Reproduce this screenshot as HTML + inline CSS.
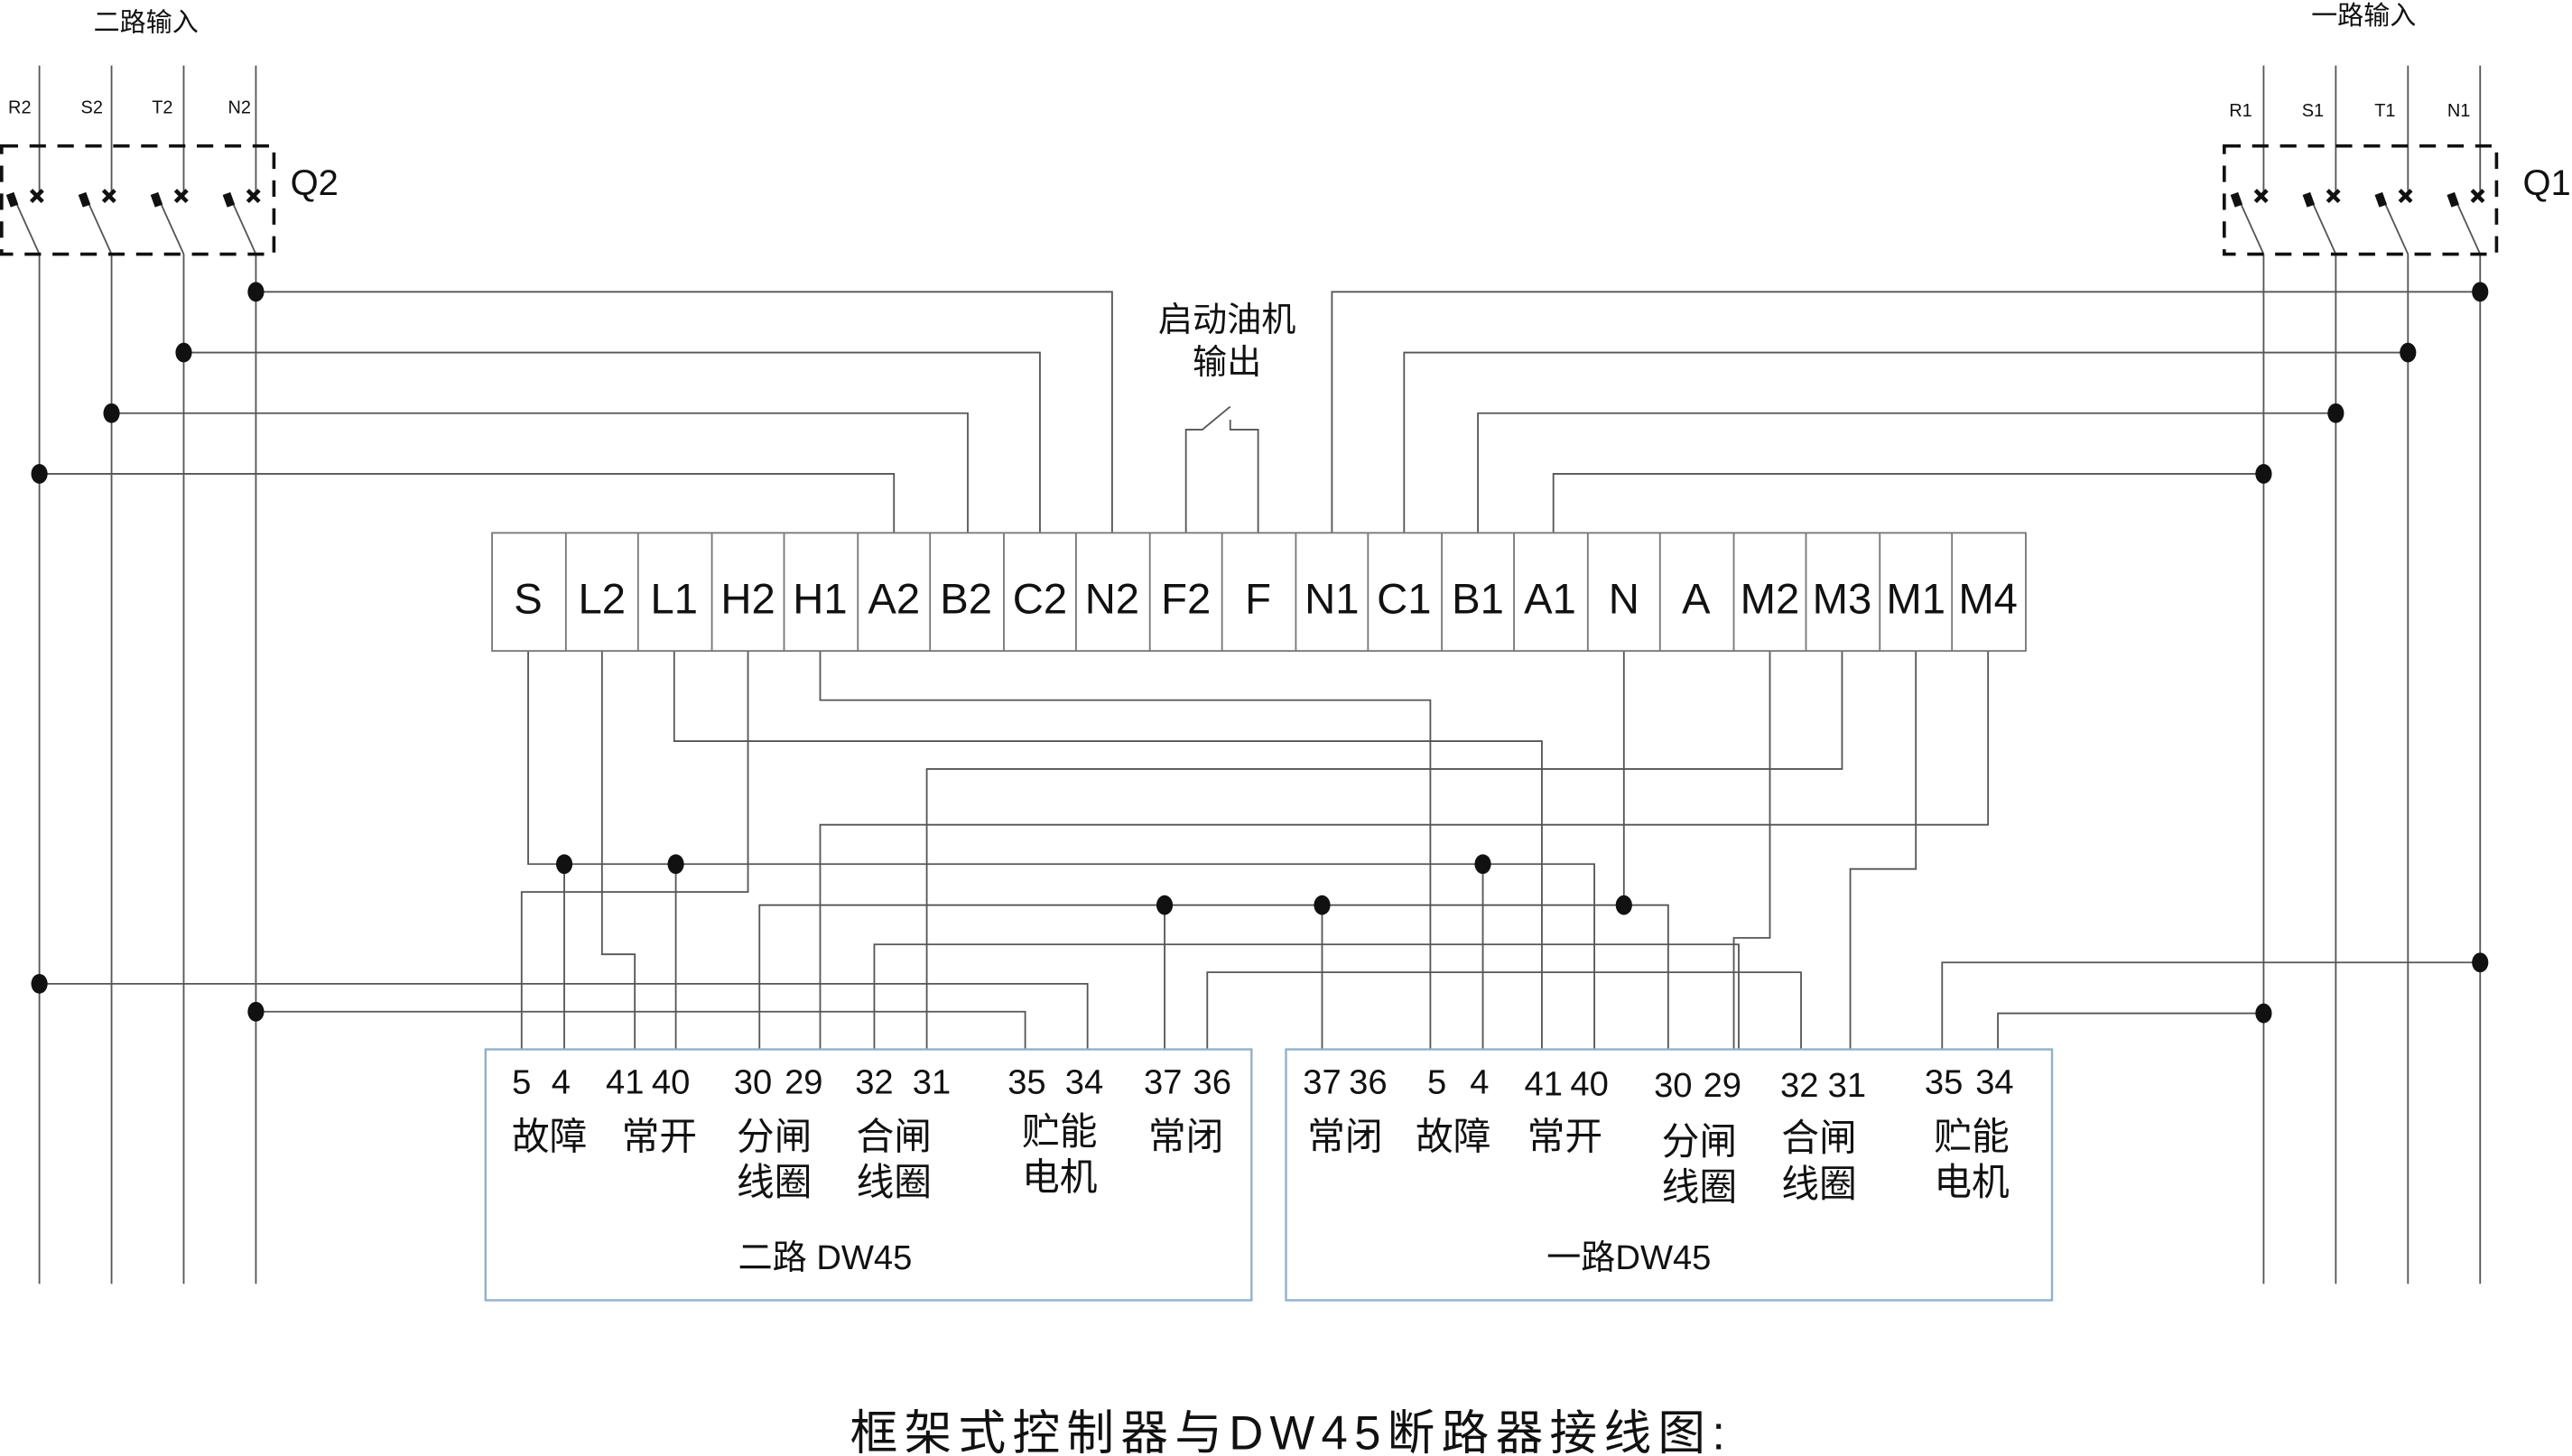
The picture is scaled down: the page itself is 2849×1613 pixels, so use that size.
<!DOCTYPE html>
<html><head><meta charset="utf-8"><style>
html,body{margin:0;padding:0;background:#fff;}
svg{display:block;}
text{font-family:"Liberation Sans","Noto Sans CJK SC",sans-serif;fill:#111;}
</style></head><body>
<svg width="2849" height="1613" viewBox="0 0 1568 888" preserveAspectRatio="none" xmlns="http://www.w3.org/2000/svg">
<g fill="none" stroke="#555" stroke-width="1">
<!-- left inputs -->
<path d="M24,40V120M68,40V120M112,40V120M156,40V120"/>
<path d="M24,155V783M68,155V783M112,155V783M156,155V783"/>
<path d="M10,124L24,155M54,124L68,155M98,124L112,155M142,124L156,155"/>
<path d="M1380,40V120M1424,40V120M1468,40V120M1512,40V120"/>
<path d="M1380,155V783M1424,155V783M1468,155V783M1512,155V783"/>
<path d="M1366,124L1380,155M1410,124L1424,155M1454,124L1468,155M1498,124L1512,155"/>
<!-- taps to terminal -->
<path d="M156,178H678V325M112,215H634V325M68,252H590V325M24,289H545V325"/>
<path d="M1512,178H812V325M1468,215H856V325M1424,252H901V325M1380,289H947V325"/>
<!-- generator switch -->
<path d="M723,325V262H733L750,248M767,325V262H750V256"/>
<!-- lower wiring -->
<path d="M322,397V527H972V640"/>
<path d="M344,527V640M412,527V640M904,527V640"/>
<path d="M367,397V582H387V640"/>
<path d="M411,397V452H940V640"/>
<path d="M456,397V544H318V640"/>
<path d="M500,397V427H872V640"/>
<path d="M990,397V552M463,640V552H1017V640M710,552V640M806,552V640"/>
<path d="M1079,397V572H1057V640"/>
<path d="M1123,397V469H565V640"/>
<path d="M1168,397V530H1128V640"/>
<path d="M1212,397V503H500V640"/>
<path d="M533,640V576H1060V640"/>
<path d="M736,640V593H1098V640"/>
<path d="M24,600H663V640"/>
<path d="M156,617H625V640"/>
<path d="M1512,587H1184V640"/>
<path d="M1380,618H1218V640"/>
</g>
<!-- dashed boxes -->
<g fill="none" stroke="#111" stroke-width="2" stroke-dasharray="10,7">
<rect x="1" y="89" width="166" height="66"/>
<rect x="1356" y="89" width="166" height="66"/>
</g>
<!-- switch marks -->
<g stroke="#111" stroke-width="2.5">
<path d="M19,116l7,7m0-7l-7,7M63,116l7,7m0-7l-7,7M107,116l7,7m0-7l-7,7M151,116l7,7m0-7l-7,7"/>
<path d="M1375,116l7,7m0-7l-7,7M1419,116l7,7m0-7l-7,7M1463,116l7,7m0-7l-7,7M1507,116l7,7m0-7l-7,7"/>
</g>
<g fill="#111">
<rect x="5" y="118" width="5" height="8" transform="rotate(-20 7 122)"/>
<rect x="49" y="118" width="5" height="8" transform="rotate(-20 51 122)"/>
<rect x="93" y="118" width="5" height="8" transform="rotate(-20 95 122)"/>
<rect x="137" y="118" width="5" height="8" transform="rotate(-20 139 122)"/>
<rect x="1361" y="118" width="5" height="8" transform="rotate(-20 1363 122)"/>
<rect x="1405" y="118" width="5" height="8" transform="rotate(-20 1407 122)"/>
<rect x="1449" y="118" width="5" height="8" transform="rotate(-20 1451 122)"/>
<rect x="1493" y="118" width="5" height="8" transform="rotate(-20 1495 122)"/>
<!-- dots -->
<ellipse cx="156" cy="178" rx="5" ry="6"/><ellipse cx="112" cy="215" rx="5" ry="6"/>
<ellipse cx="68" cy="252" rx="5" ry="6"/><ellipse cx="24" cy="289" rx="5" ry="6"/>
<ellipse cx="1512" cy="178" rx="5" ry="6"/><ellipse cx="1468" cy="215" rx="5" ry="6"/>
<ellipse cx="1424" cy="252" rx="5" ry="6"/><ellipse cx="1380" cy="289" rx="5" ry="6"/>
<ellipse cx="344" cy="527" rx="5" ry="6"/><ellipse cx="412" cy="527" rx="5" ry="6"/>
<ellipse cx="904" cy="527" rx="5" ry="6"/>
<ellipse cx="710" cy="552" rx="5" ry="6"/><ellipse cx="806" cy="552" rx="5" ry="6"/>
<ellipse cx="990" cy="552" rx="5" ry="6"/>
<ellipse cx="24" cy="600" rx="5" ry="6"/><ellipse cx="156" cy="617" rx="5" ry="6"/>
<ellipse cx="1512" cy="587" rx="5" ry="6"/><ellipse cx="1380" cy="618" rx="5" ry="6"/>
</g>
<!-- terminal block -->
<g fill="none" stroke="#777" stroke-width="1">
<rect x="300" y="325" width="935" height="72"/>
<path d="M345,325V397M389,325V397M434,325V397M478,325V397M523,325V397M567,325V397M612,325V397M656,325V397M701,325V397M745,325V397M790,325V397M834,325V397M879,325V397M923,325V397M968,325V397M1012,325V397M1057,325V397M1101,325V397M1146,325V397M1190,325V397"/>
</g>
<g font-size="26" text-anchor="middle">
<text x="322" y="374">S</text><text x="367" y="374">L2</text><text x="411" y="374">L1</text>
<text x="456" y="374">H2</text><text x="500" y="374">H1</text><text x="545" y="374">A2</text>
<text x="589" y="374">B2</text><text x="634" y="374">C2</text><text x="678" y="374">N2</text>
<text x="723" y="374">F2</text><text x="767" y="374">F</text><text x="812" y="374">N1</text>
<text x="856" y="374">C1</text><text x="901" y="374">B1</text><text x="945" y="374">A1</text>
<text x="990" y="374">N</text><text x="1034" y="374">A</text><text x="1079" y="374">M2</text>
<text x="1123" y="374">M3</text><text x="1168" y="374">M1</text><text x="1212" y="374">M4</text>
</g>
<!-- top labels -->
<g font-size="11" text-anchor="middle">
<text x="12" y="69">R2</text><text x="56" y="69">S2</text><text x="99" y="69">T2</text><text x="146" y="69">N2</text>
<text x="1366" y="71">R1</text><text x="1410" y="71">S1</text><text x="1454" y="71">T1</text><text x="1499" y="71">N1</text>
</g>
<text x="89" y="19" font-size="16" text-anchor="middle">二路输入</text>
<text x="1441" y="15" font-size="16" text-anchor="middle">一路输入</text>
<text x="177" y="119" font-size="22">Q2</text>
<text x="1538" y="119" font-size="22">Q1</text>
<text x="748" y="202" font-size="21" text-anchor="middle">启动油机</text>
<text x="748" y="228" font-size="21" text-anchor="middle">输出</text>
<!-- DW45 boxes -->
<g fill="none" stroke="#8fb0cc" stroke-width="1.3">
<rect x="296" y="640" width="467" height="153"/>
<rect x="784" y="640" width="467" height="153"/>
</g>
<g font-size="21" text-anchor="middle">
<text x="318" y="667">5</text><text x="342" y="667">4</text><text x="381" y="667">41</text><text x="409" y="667">40</text>
<text x="459" y="667">30</text><text x="490" y="667">29</text><text x="533" y="667">32</text><text x="568" y="667">31</text>
<text x="626" y="667">35</text><text x="661" y="667">34</text><text x="709" y="667">37</text><text x="739" y="667">36</text>
<text x="806" y="667">37</text><text x="834" y="667">36</text><text x="876" y="667">5</text><text x="902" y="667">4</text>
<text x="941" y="668">41</text><text x="969" y="668">40</text><text x="1020" y="669">30</text><text x="1050" y="669">29</text>
<text x="1097" y="669">32</text><text x="1126" y="669">31</text><text x="1185" y="667">35</text><text x="1216" y="667">34</text>
</g>
<g font-size="23" text-anchor="middle">
<text x="335" y="701">故障</text><text x="402" y="701">常开</text><text x="472" y="701">分闸</text><text x="545" y="701">合闸</text>
<text x="646" y="698">贮能</text><text x="723" y="701">常闭</text>
<text x="472" y="729">线圈</text><text x="545" y="729">线圈</text><text x="646" y="726">电机</text>
<text x="820" y="701">常闭</text><text x="886" y="701">故障</text><text x="954" y="701">常开</text>
<text x="1036" y="704">分闸</text><text x="1109" y="702">合闸</text><text x="1202" y="701">贮能</text>
<text x="1036" y="732">线圈</text><text x="1109" y="730">线圈</text><text x="1202" y="729">电机</text>
<text x="503" y="774" font-size="21">二路 DW45</text>
<text x="993" y="774" font-size="21">一路DW45</text>
</g>
<text x="787" y="884" font-size="29" text-anchor="middle" letter-spacing="4">框架式控制器与DW45断路器接线图:</text>
</svg>
</body></html>
